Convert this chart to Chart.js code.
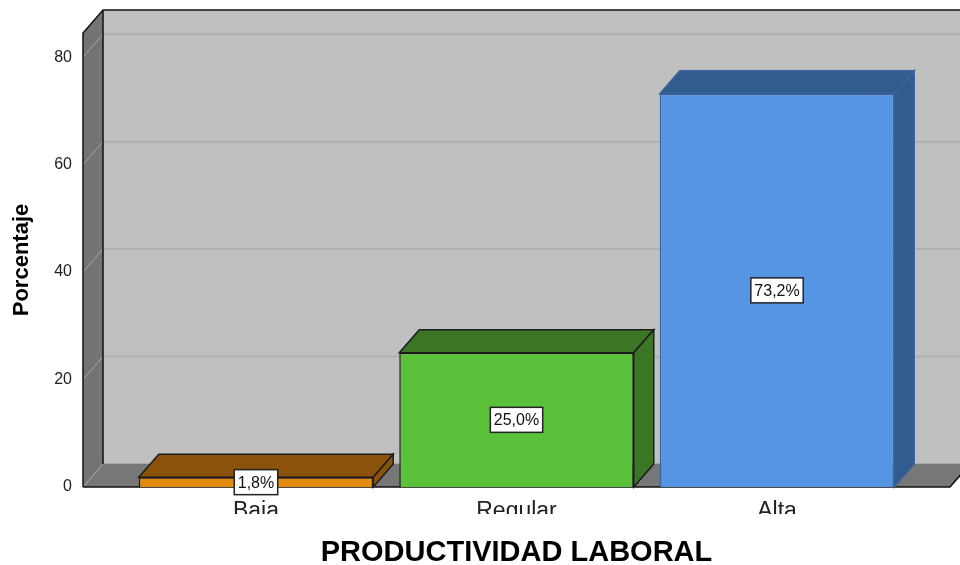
<!DOCTYPE html>
<html>
<head>
<meta charset="utf-8">
<script src="https://cdn.jsdelivr.net/npm/chart.js@4"></script>
<style>
  html, body { margin: 0; padding: 0; background: #ffffff; }
  #wrap { width: 960px; height: 565px; }
</style>
</head>
<body>
<div id="wrap"><canvas id="myChart" width="960" height="565"></canvas></div>
<script>
// data
const categories = ['Baja', 'Regular', 'Alta'];
const percentages = [1.8, 25.0, 73.2];
const yTicks = [0, 20, 40, 60, 80];

const frontColors = ['#E38A10', '#5CC13A', '#5595E4'];
const faceColors = ['#8A520B', '#3B7624', '#335C8E'];
const edgeColors = ['#1c1c1c', '#1c1c1c', '#3A639A'];

const DX = 20, DY = 23; // depth of the 3D box
const FONT = "'Liberation Sans', Arial, sans-serif";

function poly(ctx, pts, fill, stroke, lw) {
  ctx.beginPath();
  ctx.moveTo(pts[0][0], pts[0][1]);
  for (let i = 1; i < pts.length; i++) ctx.lineTo(pts[i][0], pts[i][1]);
  ctx.closePath();
  if (fill) { ctx.fillStyle = fill; ctx.fill(); }
  if (stroke) { ctx.strokeStyle = stroke; ctx.lineWidth = lw || 1; ctx.stroke(); }
}

const box3d = {
  id: 'box3d',
  beforeDatasetsDraw(chart) {
    const ctx = chart.ctx;
    const { left, right, top, bottom } = chart.chartArea;
    const y = chart.scales.y;
    ctx.save();
    // back wall
    poly(ctx, [[left + DX, top - DY], [right + DX, top - DY], [right + DX, bottom - DY], [left + DX, bottom - DY]], '#C0C0C0');
    yTicks.forEach(v => {
      const py = y.getPixelForValue(v) - DY;
      ctx.beginPath(); ctx.moveTo(left + DX, py); ctx.lineTo(right + DX, py);
      ctx.strokeStyle = v === 0 ? '#a8a8a8' : '#B0B0B0'; ctx.lineWidth = 2; ctx.stroke();
    });
    // left wall
    poly(ctx, [[left, top], [left + DX, top - DY], [left + DX, bottom - DY], [left, bottom]], '#747474');
    // floor
    poly(ctx, [[left, bottom], [left + DX, bottom - DY], [right + DX, bottom - DY], [right, bottom]], '#777777');
    // grid diagonals on the left wall
    yTicks.forEach(v => {
      const py = y.getPixelForValue(v);
      ctx.beginPath(); ctx.moveTo(left, py); ctx.lineTo(left + DX, py - DY);
      ctx.strokeStyle = '#A4A4A4'; ctx.lineWidth = 1; ctx.stroke();
    });
    // outlines
    ctx.strokeStyle = '#111'; ctx.lineWidth = 1.5;
    ctx.beginPath();
    ctx.moveTo(left, bottom); ctx.lineTo(left, top); ctx.lineTo(left + DX, top - DY);
    ctx.lineTo(right + DX, top - DY);
    ctx.moveTo(left + DX, top - DY); ctx.lineTo(left + DX, bottom - DY);
    ctx.moveTo(left, bottom); ctx.lineTo(right, bottom); ctx.lineTo(right + DX, bottom - DY);
    ctx.stroke();
    ctx.restore();
  },
  afterDatasetsDraw(chart) {
    const ctx = chart.ctx;
    const meta = chart.getDatasetMeta(0);
    ctx.save();
    meta.data.forEach((bar, i) => {
      const hw = bar.width / 2;
      const x0 = bar.x - hw, x1 = bar.x + hw, yt = bar.y, yb = bar.base;
      poly(ctx, [[x0, yt], [x0 + DX, yt - DY], [x1 + DX, yt - DY], [x1, yt]], faceColors[i], edgeColors[i], 1.5);
      poly(ctx, [[x1, yt], [x1 + DX, yt - DY], [x1 + DX, yb - DY], [x1, yb]], faceColors[i], edgeColors[i], 1.5);
    });
    ctx.restore();
  },
  afterDraw(chart) {
    const ctx = chart.ctx;
    const { left, right, bottom } = chart.chartArea;
    ctx.save();
    // the category labels are cut off at the bottom in the original
    ctx.fillStyle = '#ffffff';
    ctx.fillRect(left, bottom + 27, right - left + DX + 20, 12);
    // value boxes
    const meta = chart.getDatasetMeta(0);
    ctx.font = '16px ' + FONT;
    ctx.textAlign = 'center';
    ctx.textBaseline = 'middle';
    meta.data.forEach((bar, i) => {
      const txt = percentages[i].toFixed(1).replace('.', ',') + '%';
      const w = ctx.measureText(txt).width + 7;
      const h = 25;
      const cx = bar.x, cy = (bar.y + bar.base) / 2;
      ctx.fillStyle = '#ffffff';
      ctx.fillRect(cx - w / 2, cy - h / 2, w, h);
      ctx.strokeStyle = '#222'; ctx.lineWidth = 1.5;
      ctx.strokeRect(cx - w / 2, cy - h / 2, w, h);
      ctx.fillStyle = '#111';
      ctx.fillText(txt, cx, cy + 1);
    });
    ctx.restore();
  }
};

const data = {
  datasets: [{
    data: percentages.map((v, i) => ({ x: i, y: v })),
    backgroundColor: frontColors,
    borderColor: edgeColors,
    borderWidth: 1.5,
    categoryPercentage: 1,
    barPercentage: 0.9
  }]
};

const config = {
  type: 'bar',
  data: data,
  options: {
    responsive: false,
    animation: false,
    layout: { padding: { top: 33, right: 10, left: 0, bottom: 0 } },
    plugins: { legend: { display: false }, tooltip: { enabled: false } },
    scales: {
      x: {
        type: 'linear',
        offset: false,
        min: -0.664,
        max: 2.664,
        grid: { display: false, drawTicks: false, offset: false },
        border: { display: false },
        afterBuildTicks: s => { s.ticks = categories.map((c, i) => ({ value: i })); },
        afterFit: s => { s.height = 78; },
        ticks: {
          callback: v => categories[v],
          padding: 11,
          color: '#222',
          font: { family: FONT, size: 23 },
          maxRotation: 0
        },
        title: {
          display: true,
          text: 'PRODUCTIVIDAD LABORAL',
          color: '#000',
          font: { family: FONT, size: 29, weight: 'bold', lineHeight: 0.8 },
          padding: { top: 0, bottom: 0 }
        }
      },
      y: {
        min: 0,
        max: 84.5,
        grid: { display: false, drawTicks: false },
        border: { display: false },
        afterFit: s => { s.width = 83; },
        ticks: {
          stepSize: 20,
          includeBounds: false,
          padding: 11,
          color: '#222',
          font: { family: FONT, size: 16 }
        },
        title: {
          display: true,
          text: 'Porcentaje',
          color: '#000',
          font: { family: FONT, size: 22, weight: 'bold' },
          padding: { top: 9, bottom: 0 }
        }
      }
    }
  },
  plugins: [box3d]
};

const myChart = new Chart(document.getElementById('myChart'), config);
</script>
</body>
</html>
